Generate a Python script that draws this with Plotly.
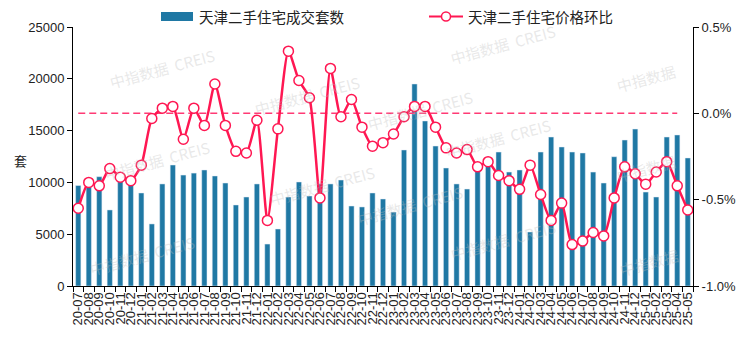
import plotly.graph_objects as go

# Months 2020-07 .. 2025-05
months = []
y, m = 2020, 7
while (y, m) <= (2025, 5):
    months.append(f"{y % 100:02d}-{m:02d}")
    m += 1
    if m > 12:
        y, m = y + 1, 1

# Tianjin second-hand housing: monthly transactions (units)
volume = [
    9700, 9900, 10550, 7340, 10250, 9900,
    8980, 5990, 9850, 11680, 10710, 10900, 11200, 10620, 9940, 7820, 8590, 9850,
    4050, 5500, 8590, 10040, 8690, 9850, 9850, 10230, 7720, 7630, 8980, 8400,
    7140, 13130, 19500, 15930, 13510, 11390, 9850, 9360, 11200, 11680, 12930, 11000,
    11200, 5210, 12930, 14380, 13420, 12930, 12840, 11000, 9940, 12480, 14090, 15150,
    9070, 8590, 14380, 14580, 12360,
]

# Month-on-month price change (%)
mom = [
    -0.55, -0.40, -0.42, -0.32, -0.37, -0.39,
    -0.30, -0.03, 0.03, 0.04, -0.15, 0.03, -0.07, 0.17, -0.07, -0.22, -0.23, -0.04,
    -0.62, -0.09, 0.36, 0.19, 0.09, -0.49, 0.26, -0.02, 0.08, -0.08, -0.19, -0.17,
    -0.12, -0.02, 0.04, 0.04, -0.08, -0.20, -0.23, -0.21, -0.31, -0.28, -0.36, -0.39,
    -0.44, -0.30, -0.47, -0.62, -0.52, -0.76, -0.74, -0.69, -0.71, -0.49, -0.31, -0.35,
    -0.41, -0.34, -0.28, -0.42, -0.56,
]

bar_name = "天津二手住宅成交套数"
line_name = "天津二手住宅价格环比"
left_ticks = [0, 5000, 10000, 15000, 20000, 25000]
right_ticks = [-1.0, -0.5, 0.0, 0.5]

BAR = "#1F78A4"
LINE = "#FF1752"
FONT = "Arial, Liberation Sans, Noto Sans CJK SC"
CJK = "Noto Sans CJK SC, Microsoft YaHei, sans-serif"

W, H = 747, 344
ML, MR, MT, MB = 73, 54, 27, 58
PW, PH = W - ML - MR, H - MT - MB


def px(x, yy):
    """Pixel position on the page -> paper coordinates of the plot area."""
    return (x - ML) / PW, (H - MB - yy) / PH


fig = go.Figure()
fig.add_trace(go.Bar(x=months, y=volume, marker_color=BAR, name=bar_name,
                     showlegend=False))
fig.add_trace(go.Scatter(x=months[:-1], y=[0] * (len(months) - 1), yaxis="y2",
                         mode="lines",
                         line=dict(color="#FF3A75", width=1.5, dash="7px,4px"),
                         showlegend=False, hoverinfo="skip"))
fig.add_trace(go.Scatter(x=months, y=mom, yaxis="y2", mode="lines+markers",
                         line=dict(color=LINE, width=2.5, shape="spline", smoothing=0.6),
                         marker=dict(size=10, color="white",
                                     line=dict(color=LINE, width=1.5)),
                         name=line_name, showlegend=False))

# Watermarks
marks = [
    (105, 68, "中指数据  CREIS"), (250, 95, "中指数据  CREIS"),
    (100, 160, "中指数据  CREIS"), (265, 185, "中指数据  CREIS"),
    (85, 255, "中指数据  CREIS"), (420, 110, "中指数据  CREIS"),
    (410, 205, "中指数据  CREIS"), (560, 45, "中指数据  CREIS"),
    (555, 138, "中指数据  CREIS"), (560, 240, "中指数据  CREIS"),
    (680, 78, "中指数据"), (680, 168, "中指数据"), (683, 262, "中指数据"),
]
for mx, my, txt in marks:
    ax_, ay_ = px(mx, my)
    fig.add_annotation(x=ax_, y=ay_, xref="paper", yref="paper", yanchor="middle",
                       text=txt, showarrow=False, textangle=-15,
                       font=dict(family=CJK, size=15, color="rgba(190,190,190,0.35)"))

# Legend drawn by hand
x0, y0 = px(161, 12)
x1, y1 = px(193, 21)
fig.add_shape(type="rect", xref="paper", yref="paper", x0=x0, x1=x1, y0=y1, y1=y0,
              fillcolor=BAR, line=dict(width=0))
lx, ly = px(197, 16.5)
fig.add_annotation(x=lx, y=ly, xref="paper", yref="paper", text=bar_name,
                   showarrow=False, xanchor="left", yanchor="middle",
                   font=dict(family=CJK, size=14.5, color="#222"))
a0, ay = px(429, 16.5)
a1, _ = px(463, 16.5)
fig.add_shape(type="line", xref="paper", yref="paper", x0=a0, x1=a1, y0=ay, y1=ay,
              line=dict(color=LINE, width=2))
c0, cy0 = px(441.5, 12)
c1, cy1 = px(450.5, 21)
fig.add_shape(type="circle", xref="paper", yref="paper", x0=c0, x1=c1, y0=cy1, y1=cy0,
              fillcolor="white", line=dict(color=LINE, width=1.5))
tx, ty = px(466, 16.5)
fig.add_annotation(x=tx, y=ty, xref="paper", yref="paper", text=line_name,
                   showarrow=False, xanchor="left", yanchor="middle",
                   font=dict(family=CJK, size=14.5, color="#222"))

# Left-axis unit
ux, uy = px(12, 160)
fig.add_annotation(x=ux, y=uy, xref="paper", yref="paper", text="套", showarrow=False,
                   yanchor="middle", font=dict(family=CJK, size=13, color="#222"))

fig.update_layout(
    width=W, height=H,
    margin=dict(l=ML, r=MR, t=MT, b=MB, autoexpand=False),
    paper_bgcolor="white", plot_bgcolor="white",
    bargap=0.5,
    font=dict(family=FONT, size=13, color="#222"),
    xaxis=dict(type="category", range=[-0.5, len(months) - 0.5],
               tickangle=-90, ticks="outside", tickson="boundaries",
               tickmode="linear", dtick=1, automargin=False,
               ticklen=5, tickcolor="#000", showline=True, linecolor="#000",
               linewidth=1, showgrid=False, tickfont=dict(size=13)),
    yaxis=dict(range=[0, 25000], tickvals=left_ticks, tickformat="d", ticks="outside",
               ticklen=5, automargin=False,
               tickcolor="#000", showline=True, linecolor="#000", showgrid=False,
               zeroline=False, tickfont=dict(size=13)),
    yaxis2=dict(range=[-1.0, 0.5], tickvals=right_ticks, automargin=False,
                ticktext=[f"{v:.1f}%" for v in right_ticks], overlaying="y",
                side="right", ticks="outside", ticklen=5, tickcolor="#000",
                showline=True, linecolor="#000", showgrid=False, zeroline=False,
                tickfont=dict(size=13)),
)

fig.write_html("out.html")
